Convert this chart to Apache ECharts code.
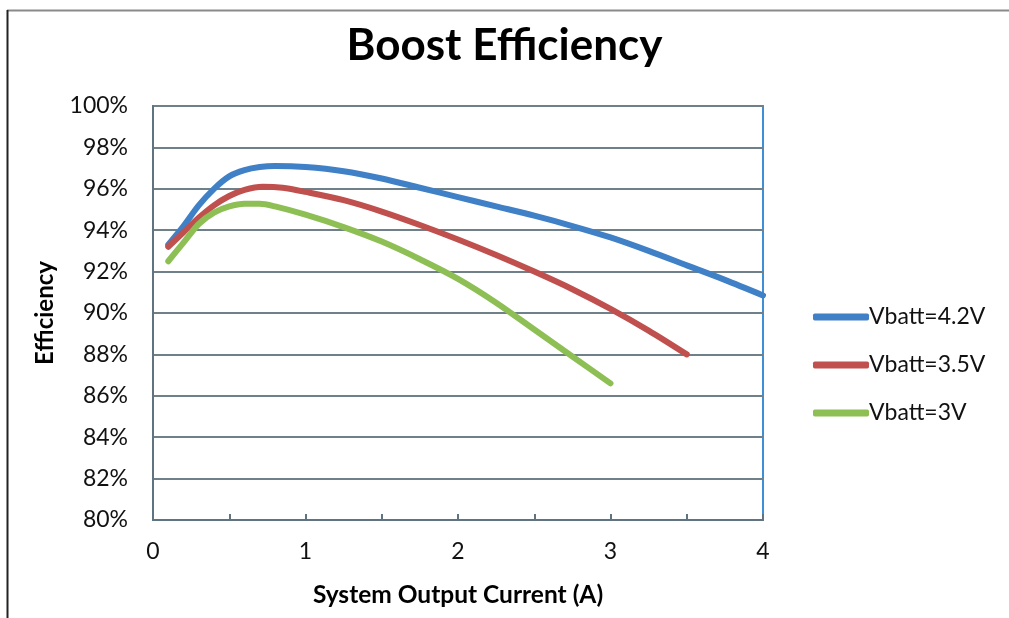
<!DOCTYPE html>
<html>
<head>
<meta charset="utf-8">
<script src="https://cdn.jsdelivr.net/npm/echarts@6/dist/echarts.min.js"></script>
<style>
html,body{margin:0;padding:0;background:#fff;}
#chart{width:1009px;height:618px;}
</style>
</head>
<body>
<div id="chart"></div>
<script>
const title = 'Boost Efficiency';
const xName = 'System Output Current (A)';
const yName = 'Efficiency';
const seriesNames = ['Vbatt=4.2V', 'Vbatt=3.5V', 'Vbatt=3V'];
const blueData = [[0.1,93.3],[0.2,94.2],[0.3,95.2],[0.4,96.0],[0.5,96.6],[0.6,96.9],[0.7,97.05],[0.8,97.1],[1.0,97.05],[1.25,96.85],[1.5,96.5],[1.75,96.05],[2.0,95.6],[2.25,95.15],[2.5,94.7],[2.75,94.2],[3.0,93.65],[3.25,93.0],[3.5,92.3],[3.75,91.6],[4.0,90.85]];
const redData = [[0.1,93.2],[0.2,93.9],[0.3,94.6],[0.4,95.2],[0.5,95.65],[0.6,95.95],[0.72,96.1],[0.85,96.05],[1.0,95.85],[1.25,95.45],[1.5,94.9],[1.75,94.25],[2.0,93.55],[2.25,92.8],[2.5,92.0],[2.75,91.15],[3.0,90.2],[3.25,89.15],[3.5,88.0]];
const greenData = [[0.1,92.5],[0.2,93.4],[0.3,94.3],[0.4,94.85],[0.5,95.15],[0.6,95.28],[0.7,95.28],[0.8,95.15],[1.0,94.75],[1.25,94.15],[1.5,93.45],[1.75,92.6],[2.0,91.65],[2.25,90.5],[2.5,89.2],[2.75,87.9],[3.0,86.6]];
const colors = ['#4080c6', '#c0504d', '#8dbf55'];

const chart = echarts.init(document.getElementById('chart'));
const font = 'Lato, "Open Sans", sans-serif';
function mk(name, data, color) {
  return {
    name: name, type: 'line', data: data, smooth: 0.3, symbol: 'none',
    lineStyle: { width: 6, color: color, cap: 'round', join: 'round' },
    itemStyle: { color: color }
  };
}
chart.setOption({
  animation: false,
  backgroundColor: '#fff',
  textStyle: { fontFamily: font },
  title: {
    text: title, left: 'center', top: 19,
    textStyle: { fontSize: 44, fontWeight: 'bold', color: '#000', fontFamily: font }
  },
  legend: {
    orient: 'vertical', left: 808, top: 300, itemWidth: 56, itemHeight: 7, itemGap: 24,
    icon: 'roundRect',
    textStyle: { fontSize: 23, lineHeight: 24, color: '#111', fontFamily: font, padding: [0,0,0,-5] },
    data: seriesNames
  },
  grid: {
    left: 153, right: 246, top: 106, bottom: 98,
    show: true, borderColor: '#3f8fd6', borderWidth: 2, backgroundColor: '#fff'
  },
  xAxis: {
    type: 'value', min: 0, max: 4, interval: 0.5,
    name: xName, nameLocation: 'middle', nameGap: 63,
    nameTextStyle: { fontSize: 24.5, fontWeight: 'bold', color: '#000', fontFamily: font },
    axisLine: { show: true, lineStyle: { color: '#5f7480', width: 2 } },
    axisTick: { show: true, inside: true, length: 6, lineStyle: { color: '#5f7480', width: 2 } },
    axisLabel: { fontSize: 23, color: '#111', margin: 20, formatter: v => (Number.isInteger(v) ? String(v) : '') },
    splitLine: { show: false }
  },
  yAxis: {
    type: 'value', min: 80, max: 100, interval: 2,
    name: yName, nameLocation: 'middle', nameGap: 96, nameRotate: 90,
    nameTextStyle: { fontSize: 24, fontWeight: 'bold', color: '#000', fontFamily: font },
    axisLine: { show: true, lineStyle: { color: '#5f7480', width: 2 } },
    axisTick: { show: false },
    axisLabel: { fontSize: 23, color: '#111', margin: 25, formatter: '{value}%' },
    splitLine: { show: true, lineStyle: { color: '#6f8088', width: 2 } }
  },
  series: [
    mk(seriesNames[0], blueData, colors[0]),
    mk(seriesNames[1], redData, colors[1]),
    mk(seriesNames[2], greenData, colors[2])
  ],
  graphic: [
    { type: 'line', shape: { x1: 7, y1: 10.5, x2: 1009, y2: 10.5 }, style: { stroke: '#8a8a8a', lineWidth: 2 } },
    { type: 'line', shape: { x1: 7.5, y1: 10, x2: 7.5, y2: 618 }, style: { stroke: '#222', lineWidth: 2 } }
  ]
});
</script>
</body>
</html>
